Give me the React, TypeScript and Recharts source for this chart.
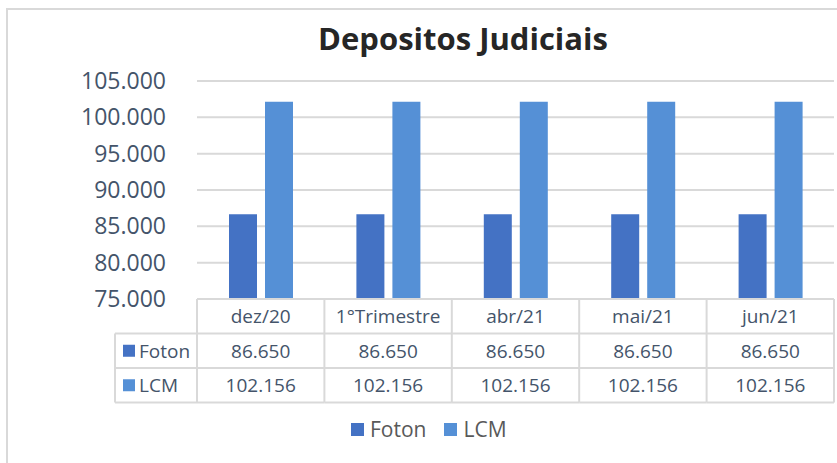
import { BarChart, Bar, XAxis, YAxis, CartesianGrid } from 'recharts'

const categories = ['dez/20', '1°Trimestre', 'abr/21', 'mai/21', 'jun/21']
const fotonValues = [86650, 86650, 86650, 86650, 86650]
const lcmValues = [102156, 102156, 102156, 102156, 102156]
const yTicks = [75000, 80000, 85000, 90000, 95000, 100000, 105000]

const series = [
  { key: 'Foton', name: 'Foton', color: '#4472C4', values: fotonValues },
  { key: 'LCM', name: 'LCM', color: '#5590D6', values: lcmValues },
]

const data = categories.map((name, i) => ({
  name,
  Foton: fotonValues[i],
  LCM: lcmValues[i],
}))

const FONT = '"Open Sans", "Noto Sans", sans-serif'
const TEXT_BLUE = '#44546A'
const LINE = '#D9D9D9'

// plot geometry (matches the Excel layout)
const PLOT_LEFT = 197
const PLOT_RIGHT = 834
const PLOT_TOP = 81
const PLOT_BOTTOM = 299
const ROW_H = 34.5
const LABEL_COL_W = 82
const COL_W = (PLOT_RIGHT - PLOT_LEFT) / categories.length

const fmt = (v: number) => String(Math.round(v)).replace(/\B(?=(\d{3})+(?!\d))/g, '.')

// every x tick draws one column of the data table below the plot
function TableTick(props: any) {
  const { x, y, index, payload } = props
  const left = x - COL_W / 2
  const right = x + COL_W / 2
  const textProps = {
    fontFamily: FONT,
    fontSize: 19,
    fill: TEXT_BLUE,
    textAnchor: 'middle' as const,
    dominantBaseline: 'central' as const,
  }
  return (
    <g>
      {index === 0 && (
        <g>
          <line x1={left} y1={y} x2={left} y2={y + ROW_H * 3} stroke={LINE} strokeWidth={2} />
          <line x1={left - LABEL_COL_W} y1={y + ROW_H} x2={left} y2={y + ROW_H} stroke={LINE} strokeWidth={2} />
          <line x1={left - LABEL_COL_W} y1={y + ROW_H * 2} x2={left} y2={y + ROW_H * 2} stroke={LINE} strokeWidth={2} />
          <line x1={left - LABEL_COL_W} y1={y + ROW_H * 3} x2={left} y2={y + ROW_H * 3} stroke={LINE} strokeWidth={2} />
          <line x1={left - LABEL_COL_W} y1={y + ROW_H} x2={left - LABEL_COL_W} y2={y + ROW_H * 3} stroke={LINE} strokeWidth={2} />
          {series.map((s, r) => (
            <g key={s.key}>
              <rect x={left - LABEL_COL_W + 8} y={y + ROW_H * (r + 1.5) - 6} width={12} height={12} fill={s.color} />
              <text {...textProps} textAnchor="start" x={left - LABEL_COL_W + 24} y={y + ROW_H * (r + 1.5)}>
                {s.name}
              </text>
            </g>
          ))}
        </g>
      )}
      <line x1={left} y1={y} x2={right} y2={y} stroke={LINE} strokeWidth={2} />
      <line x1={left} y1={y + ROW_H} x2={right} y2={y + ROW_H} stroke={LINE} strokeWidth={2} />
      <line x1={left} y1={y + ROW_H * 2} x2={right} y2={y + ROW_H * 2} stroke={LINE} strokeWidth={2} />
      <line x1={left} y1={y + ROW_H * 3} x2={right} y2={y + ROW_H * 3} stroke={LINE} strokeWidth={2} />
      <line x1={right} y1={y} x2={right} y2={y + ROW_H * 3} stroke={LINE} strokeWidth={2} />
      <text {...textProps} x={x} y={y + ROW_H * 0.5}>
        {payload.value}
      </text>
      {series.map((s, r) => (
        <text key={s.key} {...textProps} x={x} y={y + ROW_H * (r + 1.5)}>
          {fmt(s.values[index])}
        </text>
      ))}
    </g>
  )
}

export default function App() {
  return (
    <div style={{ position: 'absolute', left: 0, top: 0, width: 837, height: 463, background: '#fff', overflow: 'hidden' }}>
      {/* chart frame: left and top edges visible */}
      <div
        style={{
          position: 'absolute',
          left: 6,
          top: 8,
          width: 840,
          height: 470,
          borderLeft: `2px solid ${LINE}`,
          borderTop: `2px solid ${LINE}`,
        }}
      />
      <div
        style={{
          position: 'absolute',
          top: 17,
          left: 213,
          width: 500,
          textAlign: 'center',
          fontFamily: FONT,
          fontWeight: 700,
          fontSize: 31,
          color: '#262626',
        }}
      >
        Depositos Judiciais
      </div>
      <div style={{ position: 'absolute', left: 0, top: 0 }}>
        <BarChart
          width={837}
          height={463}
          data={data}
          margin={{ top: PLOT_TOP, right: 837 - PLOT_RIGHT, bottom: 463 - PLOT_BOTTOM - ROW_H * 3, left: 0 }}
          barSize={28}
          barGap={8}
        >
          <CartesianGrid vertical={false} stroke={LINE} strokeWidth={2} />
          <YAxis
            domain={[75000, 105000]}
            ticks={yTicks}
            width={PLOT_LEFT}
            axisLine={false}
            tickLine={false}
            tickSize={0}
            tickMargin={31}
            allowDataOverflow
            tickFormatter={fmt}
            tick={{ fill: TEXT_BLUE, fontSize: 23, fontFamily: FONT }}
          />
          <XAxis
            dataKey="name"
            height={ROW_H * 3}
            axisLine={false}
            tickLine={false}
            tickSize={0}
            tickMargin={0}
            interval={0}
            tick={<TableTick />}
          />
          {series.map((s) => (
            <Bar key={s.key} dataKey={s.key} name={s.name} fill={s.color} isAnimationActive={false} />
          ))}
        </BarChart>
      </div>
      <div
        style={{
          position: 'absolute',
          top: 415,
          left: 351,
          display: 'flex',
          alignItems: 'center',
          fontFamily: FONT,
          fontSize: 21,
          color: '#595959',
        }}
      >
        {series.map((s) => (
          <div key={s.key} style={{ display: 'flex', alignItems: 'center', marginRight: 18 }}>
            <span style={{ width: 13, height: 13, background: s.color, display: 'inline-block', marginRight: 6 }} />
            <span>{s.name}</span>
          </div>
        ))}
      </div>
    </div>
  )
}
